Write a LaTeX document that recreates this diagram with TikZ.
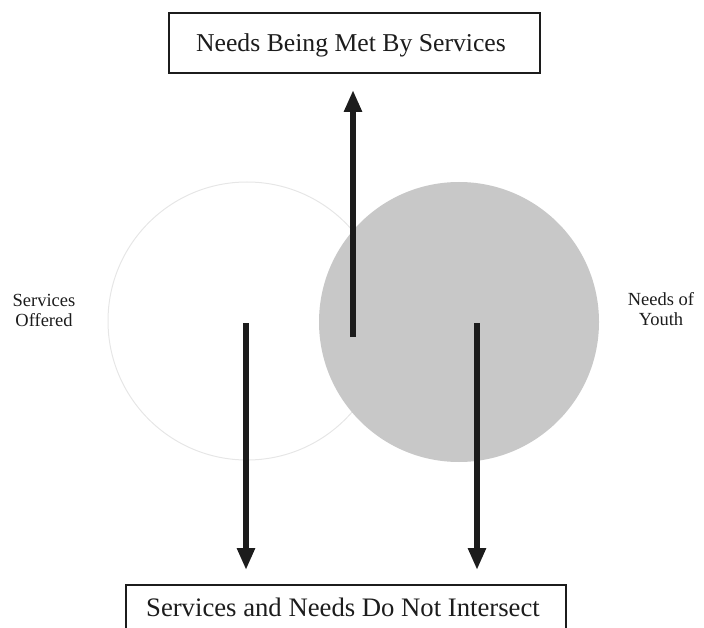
\documentclass[tikz,border=0pt]{standalone}
\usepackage{fontspec}
\setmainfont{Liberation Serif}
\usetikzlibrary{arrows.meta}
\definecolor{ink}{HTML}{1C1C1C}
\definecolor{needsgray}{HTML}{C8C8C8}
\definecolor{faint}{HTML}{E6E6E6}
\begin{document}
\begin{tikzpicture}[x=1pt,y=-1pt,
  box/.style={draw=ink, line width=1.6pt, inner sep=0pt},
  title/.style={text=ink, font=\fontsize{25.7}{30}\selectfont},
  side/.style={text=ink, align=center, font=\fontsize{18.5}{20}\selectfont},
  bigarrow/.style={draw=ink, line width=6pt, -{Triangle[length=22pt,width=17pt]}}]
\useasboundingbox (0,0) rectangle (704,628);
\clip (0,0) rectangle (704,628);

% the two sets
\draw[faint, line width=1pt] (247,321) circle[radius=139];
\fill[needsgray] (459,322) circle[radius=140];

% outcome boxes
\node[box, minimum width=371pt, minimum height=60pt] (met) at (354.5,43) {};
\node[title] (mettext) at (351,45) {Needs Being Met By Services};
\node[box, minimum width=440pt, minimum height=70pt, anchor=north] (apart) at (346,584) {};
\node[title, font=\fontsize{26.7}{30}\selectfont] (aparttext) at (343,607) {Services and Needs Do Not Intersect};

% set labels
\node[side] (services) at (44,310) {Services\\Offered};
\node[side] (needs) at (661,309) {Needs of\\Youth};

% arrows
\coordinate (upstart) at (353,337);
\coordinate (uptip) at (353,90);
\coordinate (lstart) at (246,323);
\coordinate (ltip) at (246,570);
\coordinate (rstart) at (477,323);
\coordinate (rtip) at (477,570);
\draw[bigarrow] (upstart) -- (uptip);
\draw[bigarrow] (lstart) -- (ltip);
\draw[bigarrow] (rstart) -- (rtip);
\end{tikzpicture}
\end{document}
